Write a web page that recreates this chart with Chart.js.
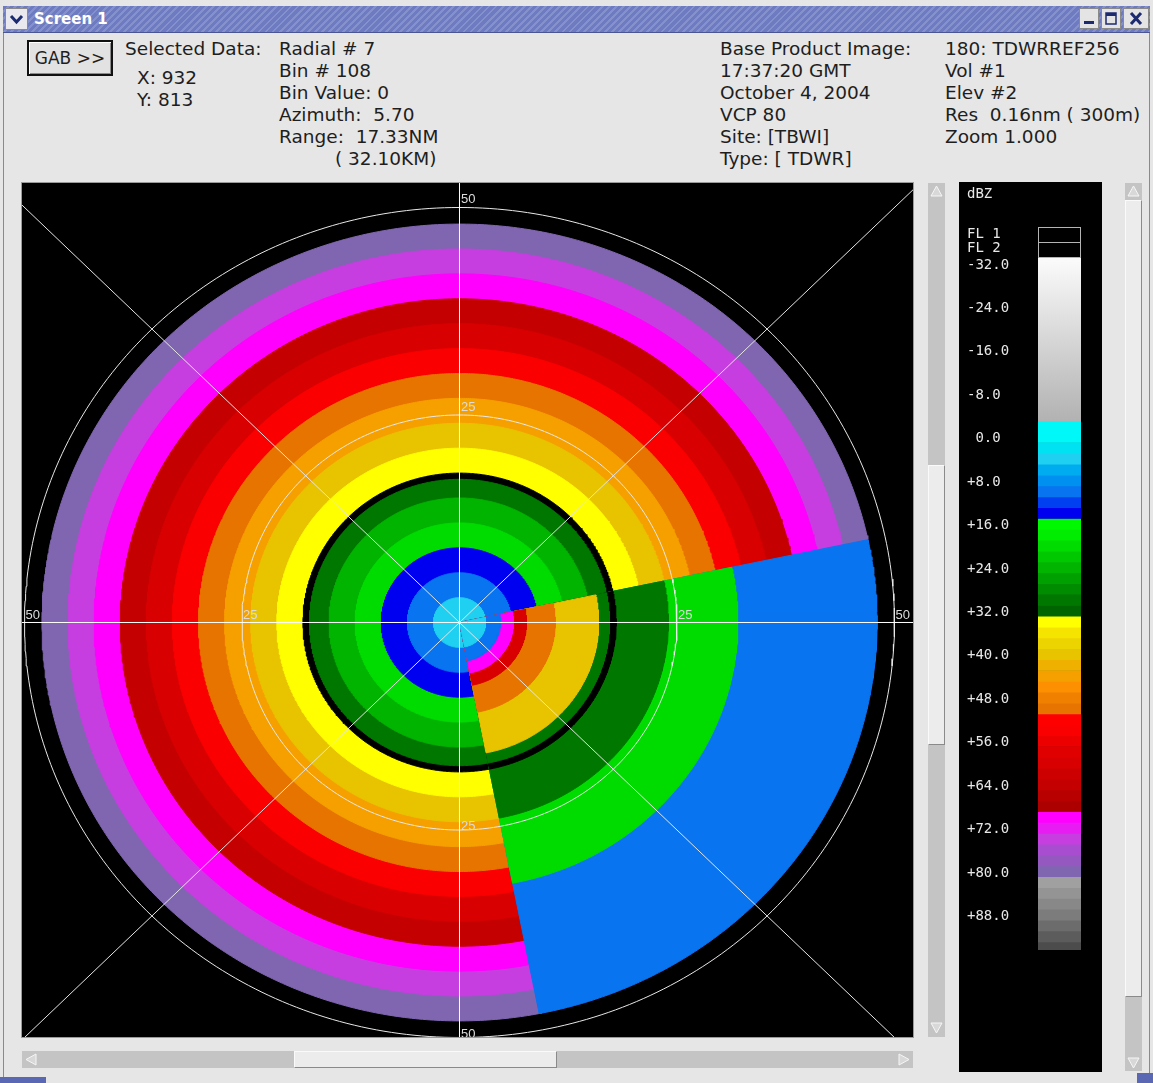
<!DOCTYPE html>
<html>
<head>
<meta charset="utf-8">
<title>Screen 1</title>
<script src="https://cdn.jsdelivr.net/npm/chart.js@4.4.1/dist/chart.umd.min.js"></script>
<style>
  html, body { margin: 0; padding: 0; }
  body {
    width: 1153px; height: 1083px; position: relative; overflow: hidden;
    background: #e6e6e6; font-family: "DejaVu Sans", sans-serif; color: #1e1e1e;
  }
  .abs { position: absolute; }
  #titlebar {
    left: 3px; top: 6px; width: 1147px; height: 26px;
    background: repeating-linear-gradient(135deg, #6e7bc0 0px, #6e7bc0 3px, #8591cd 3px, #8591cd 5px);
    border-bottom: 1px solid #4a5596;
  }
  #title { left: 34px; top: 10px; font: bold 15px "DejaVu Sans", sans-serif; color: #ffffff; }
  .winbtn { top: 8px; width: 20px; height: 21px; background: #e4e4e4; border: 1px solid #8a8a8a; box-sizing: border-box; }
  .hdr { font-size: 18.5px; line-height: 22px; white-space: pre; }
  #gab {
    left: 27px; top: 40px; width: 86px; height: 36px; box-sizing: border-box;
    border: 2px solid #111; background: #e2e2e2;
    box-shadow: inset 1px 1px 0 #ffffff, inset -1px -1px 0 #8c8c8c;
    font-size: 17px; line-height: 32px; text-align: center;
  }
  .panel { background: #000; }
  .track { background: #c4c4c4; }
  .thumb { background: #ececec; box-sizing: border-box; border-top: 1px solid #fafafa; border-left: 1px solid #fafafa; border-right: 1px solid #8a8a8a; border-bottom: 1px solid #8a8a8a; }
  .mono { font-family: "DejaVu Sans Mono", monospace; font-size: 14px; line-height: 14px; color: #e8e8e8; white-space: pre; }
  .flbox { left: 1038px; width: 43px; background: #000; border: 1px solid #b4b4b4; box-sizing: border-box; }
</style>
</head>
<body>

<!-- window frame and title bar -->
<div class="abs" style="left:3px;top:32px;width:1px;height:1046px;background:#8a8a8a"></div>
<div class="abs" style="left:1149px;top:32px;width:1px;height:1046px;background:#8a8a8a"></div>
<div class="abs" id="titlebar"></div>
<div class="abs" style="left:5px;top:8px;width:23px;height:22px;background:#e8e8ee;border:1px solid #8a8a8a;box-sizing:border-box"></div>
<svg class="abs" style="left:5px;top:8px" width="23" height="22"><polyline points="6,8 11.5,14 17,8" fill="none" stroke="#1c2a70" stroke-width="3"/></svg>
<div class="abs" id="title">Screen 1</div>
<div class="abs winbtn" style="left:1079px"></div>
<svg class="abs" style="left:1079px;top:8px" width="20" height="21"><rect x="5" y="13" width="10" height="3" fill="#1c2a70"/></svg>
<div class="abs winbtn" style="left:1101px"></div>
<svg class="abs" style="left:1101px;top:8px" width="20" height="21"><rect x="5" y="5" width="10" height="11" fill="none" stroke="#1c2a70" stroke-width="1.5"/><rect x="5" y="5" width="10" height="3" fill="#1c2a70"/></svg>
<div class="abs winbtn" style="left:1123px;width:26px"></div>
<svg class="abs" style="left:1123px;top:8px" width="26" height="21"><path d="M8 5 L18 16 M18 5 L8 16" stroke="#1c2a70" stroke-width="3"/></svg>

<!-- header readout -->
<div class="abs" id="gab">GAB &gt;&gt;</div>
<div class="abs hdr" style="left:125px;top:38px">Selected Data:</div>
<div class="abs hdr" style="left:137px;top:67px">X: 932
Y: 813</div>
<div class="abs hdr" style="left:279px;top:38px">Radial # 7
Bin # 108
Bin Value: 0
Azimuth:  5.70
Range:  17.33NM</div>
<div class="abs hdr" style="left:335px;top:148px">( 32.10KM)</div>
<div class="abs hdr" style="left:720px;top:38px">Base Product Image:
17:37:20 GMT
October 4, 2004
VCP 80
Site: [TBWI]
Type: [ TDWR]</div>
<div class="abs hdr" style="left:945px;top:38px">180: TDWRREF256
Vol #1
Elev #2
Res  0.16nm ( 300m)
Zoom 1.000</div>

<!-- radar display -->
<div class="abs panel" style="left:21px;top:182px;width:893px;height:856px;background:#9a9a9a"></div>
<div class="abs panel" style="left:22px;top:183px;width:891px;height:854px">
  <canvas id="radar" width="891" height="854"></canvas>
</div>

<!-- vertical scrollbar beside the display -->
<div class="abs track" style="left:928px;top:183px;width:17px;height:854px"></div>
<div class="abs thumb" style="left:928px;top:465px;width:17px;height:280px"></div>
<svg class="abs" style="left:928px;top:184px" width="17" height="14"><polygon points="8.5,2 14,12 3,12" fill="#d8d8d8" stroke="#f6f6f6"/></svg>
<svg class="abs" style="left:928px;top:1021px" width="17" height="14"><polygon points="3,2 14,2 8.5,12" fill="#d8d8d8" stroke="#f6f6f6"/></svg>

<!-- horizontal scrollbar under the display -->
<div class="abs track" style="left:22px;top:1051px;width:891px;height:17px"></div>
<div class="abs thumb" style="left:294px;top:1051px;width:263px;height:17px"></div>
<svg class="abs" style="left:24px;top:1052px" width="14" height="15"><polygon points="2,7.5 12,2 12,13" fill="#d8d8d8" stroke="#f6f6f6"/></svg>
<svg class="abs" style="left:897px;top:1052px" width="14" height="15"><polygon points="12,7.5 2,2 2,13" fill="#d8d8d8" stroke="#f6f6f6"/></svg>

<!-- colour scale panel -->
<div class="abs panel" style="left:959px;top:182px;width:143px;height:890px">
  <canvas id="scale" width="143" height="890"></canvas>
</div>
<div class="abs mono" style="left:967px;top:186px">dBZ</div>
<div class="abs mono" style="left:967px;top:226px">FL 1</div>
<div class="abs mono" style="left:967px;top:240px">FL 2</div>
<div class="abs flbox" style="top:227px;height:16px"></div>
<div class="abs flbox" style="top:242px;height:16px"></div>

<!-- scrollbar beside the colour scale -->
<div class="abs track" style="left:1125px;top:183px;width:17px;height:888px"></div>
<div class="abs thumb" style="left:1125px;top:200px;width:17px;height:797px"></div>
<svg class="abs" style="left:1125px;top:184px" width="17" height="14"><polygon points="8.5,2 14,12 3,12" fill="#d8d8d8" stroke="#f6f6f6"/></svg>
<svg class="abs" style="left:1125px;top:1056px" width="17" height="14"><polygon points="3,2 14,2 8.5,12" fill="#d8d8d8" stroke="#f6f6f6"/></svg>

<!-- frame corners -->
<div class="abs" style="left:0;top:1077px;width:46px;height:6px;background:#5a68b4"></div>
<div class="abs" style="left:1137px;top:1073px;width:16px;height:10px;background:#5a68b4"></div>

<script>
// ---------- colour table (dBZ) ----------
const fadeRange = [-32, -2];            // white-to-grey ramp
const fadeColors = ['#fbfbfb', '#b2b2b2'];
const stepLow = [-2, 2, 4, 6, 8, 10, 12, 14,
                 16, 18, 20, 22, 24, 26, 28, 30, 32,
                 34, 36, 38, 40, 42, 44, 46, 48, 50,
                 52, 54, 56, 58, 60, 62, 64, 66, 68,
                 70, 72, 74, 76, 78, 80,
                 82, 84, 86, 88, 90, 92, 94];
const stepColors = ['#00f8f8', '#00e2f2', '#20d0f0', '#00acf0', '#0090f0', '#0874f0', '#0040f0', '#0000f0',
                    '#00f800', '#00ec00', '#00dc00', '#00c800', '#00b400', '#00a000', '#008c00', '#007800', '#006400',
                    '#ffff00', '#f4e400', '#ecd400', '#e8c400', '#f0b000', '#f6a000', '#fc9000', '#f08000', '#e87400',
                    '#ff0000', '#fa0000', '#ec0000', '#e00000', '#d80000', '#cc0000', '#c40000', '#b80000', '#ac0000',
                    '#ff00ff', '#e61cf2', '#c63ee0', '#a84cd0', '#9458c0', '#8066b0',
                    '#a0a0a0', '#949494', '#888888', '#7c7c7c', '#6c6c6c', '#5c5c5c', '#4c4c4c'];
const scaleTop = 95.5;
const scaleTicks = [-32, -24, -16, -8, 0, 8, 16, 24, 32, 40, 48, 56, 64, 72, 80, 88];

// ---------- radar product: constant-value rings in two sectors ----------
// azimuths in degrees clockwise from north, ranges in nautical miles
const sectorA = [169, 438];
const ringOuterA = [3, 6, 9, 12, 15, 17.25, 18, 21, 24, 27, 30, 33, 36, 39, 42, 45, 48];
const ringDbzA   = [5, 10, 15, 20, 25, 30, null, 35, 40, 45, 50, 55, 60, 65, 70, 75, 80];
const sectorB = [78, 169];
const ringOuterB = [3, 4.7, 6.2, 7.7, 11, 16, 17.25, 18, 24, 32, 48];
const ringDbzB   = [5, 10, 70, 60, 50, 40, 30, null, 30, 20, 10];
const rangeRings = [25, 50];
const spokeAzimuths = [0, 45, 90, 135];

// axis extents of the display (nm east / north of the radar)
const xRange = [-50.29, 52.13];
const yRange = [-49.94, 52.95];

function colorFor(v) {
  if (v === null) return '#000000';
  for (let i = stepLow.length - 1; i >= 0; i--) if (v >= stepLow[i]) return stepColors[i];
  return fadeColors[1];
}

function wedge(r, az0, az1) {
  const pts = [{x: 0, y: 0}];
  const n = Math.ceil((az1 - az0) / 0.5);
  for (let i = 0; i <= n; i++) {
    const a = (az0 + (az1 - az0) * i / n) * Math.PI / 180;
    pts.push({x: r * Math.sin(a), y: r * Math.cos(a)});
  }
  pts.push({x: 0, y: 0});
  return pts;
}
function circle(r) {
  const pts = [];
  for (let d = 0; d <= 360; d += 1) {
    const a = d * Math.PI / 180;
    pts.push({x: r * Math.sin(a), y: r * Math.cos(a)});
  }
  return pts;
}

// paint order: each sector outermost ring first, sector B over sector A, then overlays
const layers = [];
function addSector(sector, outer, values, overlap) {
  for (let i = outer.length - 1; i >= 0; i--) {
    const c = colorFor(values[i]);
    layers.push({
      data: wedge(outer[i], sector[0] - overlap, sector[1] + overlap),
      backgroundColor: c, borderColor: c, borderWidth: 1, fill: 'shape'
    });
  }
}
addSector(sectorA, ringOuterA, ringDbzA, 0.4);
addSector(sectorB, ringOuterB, ringDbzB, 0);
rangeRings.forEach(r => layers.push({data: circle(r), borderColor: '#e8e8e8', borderWidth: 1, fill: false}));
spokeAzimuths.forEach(az => {
  const a = az * Math.PI / 180, L = 80;
  layers.push({data: [{x: -L * Math.sin(a), y: -L * Math.cos(a)}, {x: L * Math.sin(a), y: L * Math.cos(a)}],
               borderColor: az % 90 === 0 ? '#ffffff' : '#e4e4e4', borderWidth: 1, fill: false});
});
layers.forEach((d, k) => { d.order = layers.length - k; d.pointRadius = 0; d.tension = 0; });

const rangeLabels = {
  id: 'rangeLabels',
  afterDatasetsDraw(chart) {
    const {ctx, scales: {x, y}, chartArea} = chart;
    ctx.save();
    ctx.beginPath();
    ctx.rect(chartArea.left, chartArea.top, chartArea.width, chartArea.height);
    ctx.clip();
    ctx.font = '13px "Liberation Sans", sans-serif';
    ctx.fillStyle = '#dcdcdc';
    ctx.textAlign = 'left';
    ctx.textBaseline = 'bottom';
    rangeRings.forEach(r => {
      const txt = String(r);
      ctx.fillText(txt, x.getPixelForValue(0) + 1.5, y.getPixelForValue(r) - 1.5);
      ctx.fillText(txt, x.getPixelForValue(0) + 1.5, y.getPixelForValue(-r) + 3);
      ctx.fillText(txt, x.getPixelForValue(-r) + 1, y.getPixelForValue(0) - 1);
      ctx.fillText(txt, x.getPixelForValue(r) + 1, y.getPixelForValue(0) - 1);
    });
    ctx.restore();
  }
};

new Chart(document.getElementById('radar'), {
  type: 'line',
  data: {datasets: layers},
  options: {
    responsive: false, animation: false, events: [],
    layout: {padding: 0},
    plugins: {legend: {display: false}, tooltip: {enabled: false}},
    scales: {
      x: {type: 'linear', min: xRange[0], max: xRange[1], display: false},
      y: {type: 'linear', min: yRange[0], max: yRange[1], display: false}
    }
  },
  plugins: [rangeLabels]
});

// ---------- colour scale bar ----------
const scaleSets = [{
  data: [fadeRange],
  backgroundColor: (c) => {
    const ch = c.chart;
    if (!ch.chartArea) return fadeColors[0];
    const ys = ch.scales.y;
    const g = ch.ctx.createLinearGradient(0, ys.getPixelForValue(fadeRange[0]), 0, ys.getPixelForValue(fadeRange[1]));
    g.addColorStop(0, fadeColors[0]);
    g.addColorStop(1, fadeColors[1]);
    return g;
  }
}];
stepLow.forEach((lo, i) => {
  const hi = i + 1 < stepLow.length ? stepLow[i + 1] : scaleTop;
  scaleSets.push({data: [[lo, hi]], backgroundColor: stepColors[i]});
});
scaleSets.forEach(d => { d.grouped = false; d.barPercentage = 1; d.categoryPercentage = 1; d.borderWidth = 0; });

new Chart(document.getElementById('scale'), {
  type: 'bar',
  data: {labels: ['dBZ'], datasets: scaleSets},
  options: {
    responsive: false, animation: false, events: [],
    layout: {padding: {left: 8, right: 21, top: 76, bottom: 122}},
    plugins: {legend: {display: false}, tooltip: {enabled: false}},
    scales: {
      x: {display: false},
      y: {
        reverse: true, min: fadeRange[0], max: scaleTop,
        grid: {display: false}, border: {display: false},
        afterFit(s) { s.width = 71; },
        afterBuildTicks(s) { s.ticks = scaleTicks.map(v => ({value: v})); },
        ticks: {
          autoSkip: false, crossAlign: 'far', padding: 0, labelOffset: 7,
          color: '#e8e8e8', font: {family: '"DejaVu Sans Mono", monospace', size: 14},
          callback: v => v === 0 ? ' 0.0' : (v > 0 ? '+' : '') + v.toFixed(1)
        }
      }
    }
  }
});
</script>
</body>
</html>
